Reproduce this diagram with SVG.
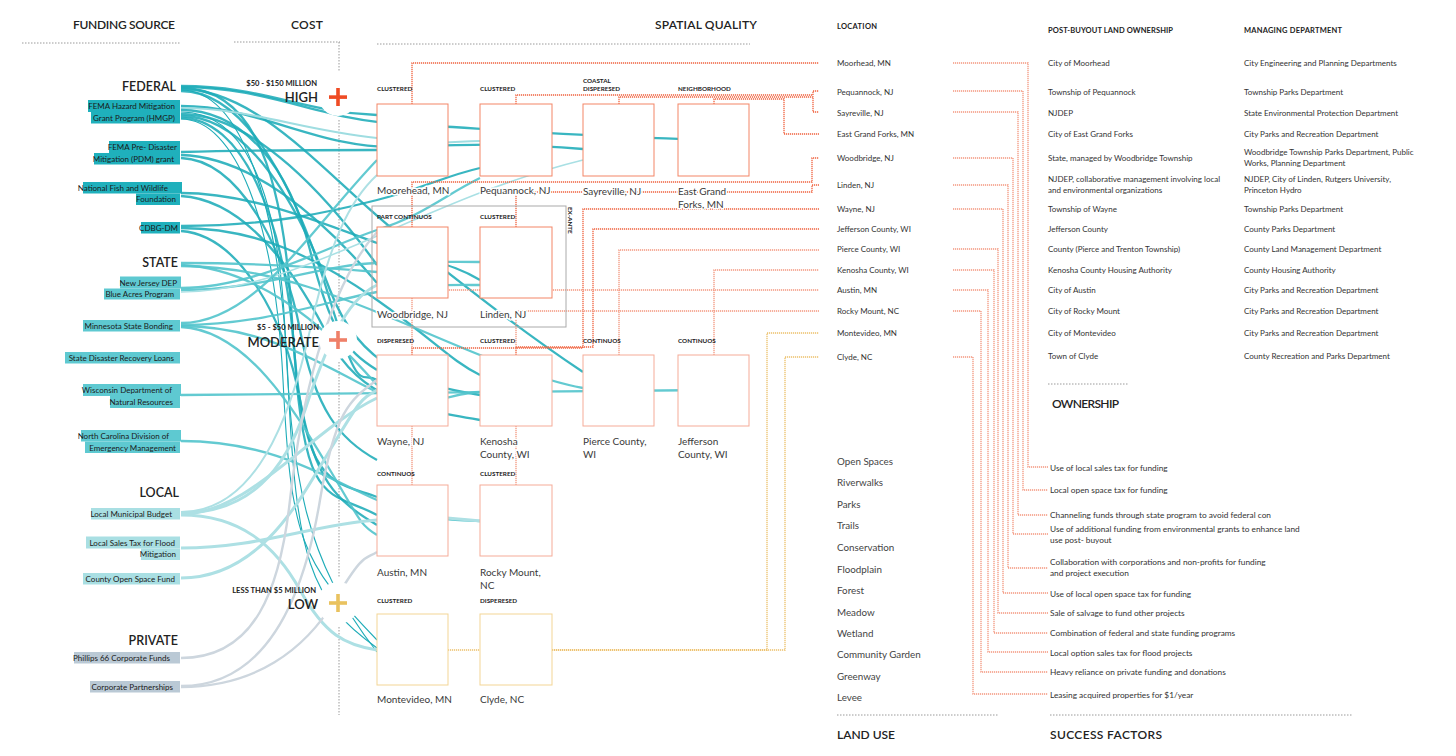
<svg xmlns="http://www.w3.org/2000/svg" width="1456" height="756" viewBox="0 0 1456 756">
<style>
text{font-family:Lato,'Liberation Sans','DejaVu Sans',sans-serif;fill:#222}
.hd{font-size:12px;font-weight:600}
.grp{font-size:12.5px;font-weight:600;text-anchor:end}
.src{font-size:8px;text-anchor:end;fill:#1a1a1a}
.cost{font-size:7.6px;font-weight:700;text-anchor:end}
.lvl{font-size:13px;font-weight:600;text-anchor:end}
.tag{font-size:6.3px;font-weight:700}
.nm{font-size:10px;fill:#3a3a3a;paint-order:stroke;stroke:#fff;stroke-width:3px;stroke-linejoin:round}
.col{font-size:7.5px;font-weight:700}
.tb{font-size:8px;fill:#333}
.lu{font-size:9.8px;fill:#444}
.sf{font-size:8.3px;fill:#333}
.dl{stroke:#9a9a9a;stroke-width:1;stroke-dasharray:1.5 1.5;fill:none}
.bf{fill:#1fb0bc}.bs{fill:#5ec9d1}.bl{fill:#a9dfe3}.bp{fill:#bac9d5}
.sq1{fill:#fff;stroke:#f38566;stroke-width:1}
.sq2{fill:#fff;stroke:#f5ab98;stroke-width:1}
.sq3{fill:#fff;stroke:#f3d595;stroke-width:1}
.fed{fill:none;stroke:#1eacb8;stroke-width:2.3;opacity:.88}
.fedt{fill:none;stroke:#1eacb8;stroke-width:1.1}
.fedl{fill:none;stroke:#9fdde1;stroke-width:2}
.sta{fill:none;stroke:#52c4cc;stroke-width:2.3;opacity:.9}
.stal{fill:none;stroke:#a9e0e4;stroke-width:1.5}
.loc{fill:none;stroke:#ade0e4;stroke-width:3}
.pri{fill:none;stroke:#cdd6de;stroke-width:2.4}
.o1{fill:none;stroke:#f0623e;stroke-width:1.3;stroke-dasharray:1.2 0.8}
.o2{fill:none;stroke:#f3977f;stroke-width:1.3;stroke-dasharray:1.2 0.8}
.g1{fill:none;stroke:#ecc06a;stroke-width:1.3;stroke-dasharray:1.2 0.8}
</style>

<g id="headers">
<text class="hd" x="73" y="29" textLength="102">FUNDING SOURCE</text>
<text class="hd" x="291" y="29" textLength="32">COST</text>
<text class="hd" x="655" y="29" textLength="102">SPATIAL QUALITY</text>
<text class="col" x="837" y="29" textLength="40">LOCATION</text>
<text class="col" x="1048" y="33" textLength="125">POST-BUYOUT LAND OWNERSHIP</text>
<text class="col" x="1244" y="33" textLength="98">MANAGING DEPARTMENT</text>
<line class="dl" x1="22" y1="43" x2="180" y2="43"/>
<line class="dl" x1="234" y1="42" x2="340" y2="42"/>
<line class="dl" x1="377" y1="44" x2="750" y2="44"/>
<line class="dl" x1="339" y1="42" x2="339" y2="72"/>
<line class="dl" x1="339" y1="120" x2="339" y2="317"/>
<line class="dl" x1="339" y1="362" x2="339" y2="577"/>
<line class="dl" x1="339" y1="627" x2="339" y2="715"/>
<line class="dl" x1="1048" y1="384" x2="1129" y2="384"/>
<text class="hd" x="1052" y="408" textLength="67">OWNERSHIP</text>
<line class="dl" x1="837" y1="715" x2="999" y2="715"/>
<text class="hd" x="837" y="739" textLength="58">LAND USE</text>
<line class="dl" x1="1050" y1="715" x2="1353" y2="715"/>
<text class="hd" x="1050" y="739" textLength="112">SUCCESS FACTORS</text>
</g>

<g id="connectors">
<g id="funding-links">
<path class="fed" d="M181,86 C265,86 300,112 377,115"/>
<path class="fed" d="M181,87 C270,87 320,120 400,124 S560,136 714,140"/>
<path class="fed" d="M181,88 C245,88 282,150 292,320 S330,480 377,497"/>
<path class="fed" d="M181,89 C260,89 330,180 400,235 S520,330 583,372"/>
<path class="fedt" d="M181,90 C240,90 280,200 288,380 S310,600 377,648"/>
<path class="fed" d="M181,91 C250,91 300,200 330,300 S360,370 377,380"/>
<path class="fed" d="M181,106 C260,106 320,150 400,147 S500,143 583,149"/>
<path class="fedl" d="M181,108 C250,108 300,130 377,138 S450,141 480,141"/>
<path class="fed" d="M181,110 C245,110 290,170 310,250 S345,350 377,370"/>
<path class="fedt" d="M181,112 C240,112 278,180 285,330 S305,560 377,652"/>
<path class="fed" d="M181,114 C255,114 330,200 377,265"/>
<path class="fed" d="M181,116 C250,116 300,210 330,290 S420,385 480,395"/>
<path class="fed" d="M181,118 C240,118 285,210 295,360 S330,490 377,515"/>
<path class="fedt" d="M181,119 C235,119 275,220 283,380 S300,560 377,640"/>
<path class="fed" d="M181,152 C260,150 320,150 377,150"/>
<path class="fed" d="M181,155 C250,157 320,215 377,283"/>
<path class="fed" d="M181,158 C240,160 285,250 300,330 S340,440 377,460"/>
<path class="fed" d="M181,193 C250,193 320,222 377,243 S450,262 480,280"/>
<path class="fed" d="M181,196 C250,200 300,280 330,340 S420,410 480,420"/>
<path class="fed" d="M181,226 C270,226 330,212 377,200 S445,176 480,168"/>
<path class="fed" d="M181,228 C260,228 320,260 377,300 S450,360 480,375"/>
<path class="fed" d="M181,231 C240,235 285,320 300,400 S335,500 377,525"/>
<path class="sta" d="M181,263 C265,263 330,268 377,272"/>
<path class="sta" d="M181,265 C255,268 320,320 377,385"/>
<path class="sta" d="M181,266 C270,266 350,300 420,330 S540,380 583,388"/>
<path class="sta" d="M181,290 C260,290 320,265 377,263 S450,262 480,262"/>
<path class="sta" d="M181,288 C255,288 330,245 377,230 S445,195 480,178"/>
<path class="stal" d="M181,292 C300,292 420,200 583,160"/>
<path class="sta" d="M181,323 C255,323 310,230 377,160"/>
<path class="sta" d="M181,325 C265,325 330,300 377,292 S450,285 480,285"/>
<path class="sta" d="M181,327 C250,330 300,420 330,470 S360,525 377,535"/>
<path class="sta" d="M181,326 C270,326 330,370 377,392 S450,392 480,392"/>
<path class="sta" d="M181,395 C300,395 450,391 714,390"/>
<path class="sta" d="M181,441 C275,441 330,480 377,500 S450,520 480,521"/>
<path class="loc" d="M181,513 C250,513 285,470 305,410 S345,300 377,285"/>
<path class="loc" style="stroke-width:2" d="M181,512 C255,512 290,420 310,330 S350,200 377,175"/>
<path class="loc" d="M181,515 C240,515 275,545 300,590 S345,645 377,650"/>
<path class="loc" d="M181,514 C250,514 310,430 377,398"/>
<path class="loc" d="M181,548 C260,548 310,525 377,520 S440,518 480,521"/>
<path class="loc" d="M181,578 C260,578 300,500 330,450 S360,400 377,390"/>
<path class="pri" d="M181,658 C255,658 280,590 290,500 S325,290 377,232"/>
<path class="pri" d="M181,687 C255,687 305,650 335,600 S365,560 377,552"/>
<path class="pri" d="M181,686 C270,686 305,590 320,500 S350,400 377,380"/>
</g>

<circle cx="338" cy="97" r="19" fill="#fff"/>
<circle cx="338" cy="340" r="19" fill="#fff"/>
<circle cx="338" cy="603" r="21" fill="#fff"/>

<g id="location-links">
<path class="o1" d="M412,104 V63 H819"/>
<path class="o1" d="M516,104 V95 H813 V91 H819"/>
<path class="o1" d="M619,104 V97 H813 V112 H819"/>
<path class="o1" d="M714,104 V99 H784 V134 H819"/>
<path class="o1" d="M412,227 V182 H812 V158 H819"/>
<path class="o1" d="M516,227 V192 H812 V185 H819"/>
<path class="o1" d="M412,355 V348 H583 V209 H819"/>
<path class="o1" d="M516,355 V347 H593 V229 H819"/>
<path class="o2" d="M619,355 V250 H819"/>
<path class="o2" d="M714,355 V270 H819"/>
<path class="o2" d="M412,485 V290 H819"/>
<path class="o2" d="M516,485 V311 H819"/>
<path class="g1" d="M412,650 H767 V333 H819"/>
<path class="g1" d="M516,650 H785 V357 H819"/>
</g>

<g id="factor-links">
<path class="o2" d="M953,63 H1028 V467 H1048"/>
<path class="o2" d="M953,91 H1023 V490 H1048"/>
<path class="o2" d="M953,112 H1018 V515 H1048"/>
<path class="o2" d="M953,158 H1013 V534 H1048"/>
<path class="o2" d="M953,185 H1008 V568 H1048"/>
<path class="o2" d="M953,209 H1003 V593 H1048"/>
<path class="o2" d="M953,249 H998 V613 H1048"/>
<path class="o2" d="M953,270 H994 V633 H1048"/>
<path class="o2" d="M953,290 H988 V652 H1048"/>
<path class="o2" d="M953,311 H981 V672 H1048"/>
<path class="o2" d="M953,357 H973 V694 H1048"/>
</g>
</g>

<g id="federal"><text class="grp" x="176" y="91">FEDERAL</text></g>
<g id="fema-hmgp"><rect class="bf" x="88" y="100" width="92" height="12"/><rect class="bf" x="91" y="112" width="89" height="11.5"/>
<text class="src" x="175" y="109">FEMA Hazard Mitigation</text><text class="src" x="175" y="120.5">Grant Program (HMGP)</text></g>
<g id="fema-pdm"><rect class="bf" x="109" y="141" width="71" height="12"/><rect class="bf" x="94" y="153" width="86" height="11.5"/>
<text class="src" x="177" y="150">FEMA Pre- Disaster</text><text class="src" x="174" y="161.5">Mitigation (PDM) grant</text></g>
<g id="nfwf"><rect class="bf" x="83" y="182" width="99" height="11.5"/><rect class="bf" x="136" y="193.5" width="44" height="11.5"/>
<text class="src" x="168" y="190.5">National Fish and Wildlife</text><text class="src" x="176" y="202">Foundation</text></g>
<g id="cdbg"><rect class="bf" x="141" y="222" width="39" height="11.5"/><text class="src" x="178" y="231">CDBG-DM</text></g>

<g id="state"><text class="grp" x="178" y="267">STATE</text></g>
<g id="nj-dep"><rect class="bs" x="120" y="276.5" width="61" height="12"/><rect class="bs" x="104" y="288.5" width="76" height="11"/>
<text class="src" x="177" y="285.5">New Jersey DEP</text><text class="src" x="174" y="297">Blue Acres Program</text></g>
<g id="mn-bonding"><rect class="bs" x="83" y="320" width="97" height="11.5"/><text class="src" x="173" y="328.5">Minnesota State Bonding</text></g>
<g id="state-loans"><rect class="bs" x="65" y="352" width="115" height="11.5"/><text class="src" x="174" y="360.5">State Disaster Recovery Loans</text></g>
<g id="wi-dnr"><rect class="bs" x="83" y="384" width="98" height="12"/><rect class="bs" x="110" y="396" width="70" height="12"/>
<text class="src" x="172" y="393">Wisconsin Department of</text><text class="src" x="173" y="405">Natural Resources</text></g>
<g id="nc-dem"><rect class="bs" x="81" y="430" width="100" height="11.5"/><rect class="bs" x="85" y="441.5" width="95" height="11.5"/>
<text class="src" x="169" y="439">North Carolina Division of</text><text class="src" x="176" y="450.5">Emergency Management</text></g>

<g id="local"><text class="grp" x="179" y="497">LOCAL</text></g>
<g id="municipal-budget"><rect class="bl" x="91" y="508" width="89" height="11.5"/><text class="src" x="172" y="516.5">Local Municipal Budget</text></g>
<g id="sales-tax"><rect class="bl" x="86" y="536.5" width="94" height="12"/><rect class="bl" x="141" y="548.5" width="39" height="11.5"/>
<text class="src" x="175" y="545.5">Local Sales Tax for Flood</text><text class="src" x="176" y="557">Mitigation</text></g>
<g id="open-space-fund"><rect class="bl" x="83" y="573" width="97" height="11.5"/><text class="src" x="175" y="581.5">County Open Space Fund</text></g>

<g id="private"><text class="grp" x="178" y="645">PRIVATE</text></g>
<g id="phillips"><rect class="bp" x="74" y="652" width="106" height="11.5"/><text class="src" x="170" y="661">Phillips 66 Corporate Funds</text></g>
<g id="corporate"><rect class="bp" x="90" y="681" width="90" height="11.5"/><text class="src" x="173" y="690">Corporate Partnerships</text></g>

<g id="cost-high"><text class="cost" x="317" y="86">$50 - $150 MILLION</text><text class="lvl" x="318" y="102">HIGH</text>
<rect x="329" y="95.3" width="18" height="3.6" fill="#ef4b24"/><rect x="336.2" y="88" width="3.6" height="18" fill="#ef4b24"/></g>
<g id="cost-moderate"><text class="cost" x="319" y="330">$5 - $50 MILLION</text><text class="lvl" x="319" y="347">MODERATE</text>
<rect x="329" y="338.2" width="18" height="3.6" fill="#ef8069"/><rect x="336.2" y="331" width="3.6" height="18" fill="#ef8069"/></g>
<g id="cost-low"><text class="cost" x="316" y="593">LESS THAN $5 MILLION</text><text class="lvl" x="318" y="609">LOW</text>
<rect x="329" y="601.2" width="18" height="3.6" fill="#e9c25f"/><rect x="336.2" y="594" width="3.6" height="18" fill="#e9c25f"/></g>

<g id="ex-ante">
<rect x="372" y="206" width="194" height="121" fill="none" stroke="#aaa" stroke-width="1"/>
<text class="tag" transform="translate(567.5,207) rotate(90)">EX-ANTE</text>
</g>

<g id="moorehead"><text class="tag" x="377" y="91">CLUSTERED</text><rect class="sq1" x="377" y="104" width="71" height="72"/><text class="nm" x="377" y="194">Moorehead, MN</text></g>
<g id="pequannock"><text class="tag" x="480" y="91">CLUSTERED</text><rect class="sq1" x="480" y="104" width="72" height="72"/><text class="nm" x="480" y="194">Pequannock, NJ</text></g>
<g id="sayreville"><text class="tag" x="583" y="83">COASTAL</text><text class="tag" x="583" y="91">DISPERESED</text><rect class="sq1" x="583" y="104" width="71" height="72"/><text class="nm" x="583" y="195">Sayreville, NJ</text></g>
<g id="east-grand-forks"><text class="tag" x="678" y="91">NEIGHBORHOOD</text><rect class="sq1" x="678" y="104" width="71" height="72"/><text class="nm" x="678" y="195">East Grand</text><text class="nm" x="678" y="208">Forks, MN</text></g>

<g id="woodbridge"><text class="tag" x="377" y="219">PART CONTINUOS</text><rect class="sq1" x="377" y="227" width="71" height="71"/><text class="nm" x="377" y="318">Woodbridge, NJ</text></g>
<g id="linden"><text class="tag" x="480" y="219">CLUSTERED</text><rect class="sq1" x="480" y="227" width="72" height="71"/><text class="nm" x="480" y="318">Linden, NJ</text></g>

<g id="wayne"><text class="tag" x="377" y="343">DISPERESED</text><rect class="sq2" x="377" y="355" width="71" height="71"/><text class="nm" x="377" y="445">Wayne, NJ</text></g>
<g id="kenosha"><text class="tag" x="480" y="343">CLUSTERED</text><rect class="sq2" x="480" y="355" width="72" height="71"/><text class="nm" x="480" y="445">Kenosha</text><text class="nm" x="480" y="458">County, WI</text></g>
<g id="pierce"><text class="tag" x="583" y="343">CONTINUOS</text><rect class="sq2" x="583" y="355" width="71" height="71"/><text class="nm" x="583" y="445">Pierce County,</text><text class="nm" x="583" y="458">WI</text></g>
<g id="jefferson"><text class="tag" x="678" y="343">CONTINUOS</text><rect class="sq2" x="678" y="355" width="71" height="71"/><text class="nm" x="678" y="445">Jefferson</text><text class="nm" x="678" y="458">County, WI</text></g>

<g id="austin"><text class="tag" x="377" y="476">CONTINUOS</text><rect class="sq2" x="377" y="485" width="71" height="71"/><text class="nm" x="377" y="576">Austin, MN</text></g>
<g id="rocky-mount"><text class="tag" x="480" y="476">CLUSTERED</text><rect class="sq2" x="480" y="485" width="72" height="71"/><text class="nm" x="480" y="576">Rocky Mount,</text><text class="nm" x="480" y="589">NC</text></g>

<g id="montevideo"><text class="tag" x="377" y="603">CLUSTERED</text><rect class="sq3" x="377" y="614" width="71" height="71"/><text class="nm" x="377" y="703">Montevideo, MN</text></g>
<g id="clyde"><text class="tag" x="480" y="603">DISPERESED</text><rect class="sq3" x="480" y="614" width="72" height="71"/><text class="nm" x="480" y="703">Clyde, NC</text></g>

<g id="location-list">
<text class="tb" x="837" y="66">Moorhead, MN</text>
<text class="tb" x="837" y="95">Pequannock, NJ</text>
<text class="tb" x="837" y="116">Sayreville, NJ</text>
<text class="tb" x="837" y="137">East Grand Forks, MN</text>
<text class="tb" x="837" y="161">Woodbridge, NJ</text>
<text class="tb" x="837" y="188">Linden, NJ</text>
<text class="tb" x="837" y="212">Wayne, NJ</text>
<text class="tb" x="837" y="232">Jefferson County, WI</text>
<text class="tb" x="837" y="252">Pierce County, WI</text>
<text class="tb" x="837" y="273">Kenosha County, WI</text>
<text class="tb" x="837" y="293">Austin, MN</text>
<text class="tb" x="837" y="314">Rocky Mount, NC</text>
<text class="tb" x="837" y="336">Montevideo, MN</text>
<text class="tb" x="837" y="360">Clyde, NC</text>
</g>
<g id="ownership-list">
<text class="tb" x="1048" y="66">City of Moorhead</text>
<text class="tb" x="1048" y="95">Township of Pequannock</text>
<text class="tb" x="1048" y="116">NJDEP</text>
<text class="tb" x="1048" y="137">City of East Grand Forks</text>
<text class="tb" x="1048" y="161">State, managed by Woodbridge Township</text>
<text class="tb" x="1048" y="182">NJDEP, collaborative management involving local</text>
<text class="tb" x="1048" y="193">and environmental organizations</text>
<text class="tb" x="1048" y="212">Township of Wayne</text>
<text class="tb" x="1048" y="232">Jefferson County</text>
<text class="tb" x="1048" y="252">County (Pierce and Trenton Township)</text>
<text class="tb" x="1048" y="273">Kenosha County Housing Authority</text>
<text class="tb" x="1048" y="293">City of Austin</text>
<text class="tb" x="1048" y="314">City of Rocky Mount</text>
<text class="tb" x="1048" y="336">City of Montevideo</text>
<text class="tb" x="1048" y="359">Town of Clyde</text>
</g>
<g id="department-list">
<text class="tb" x="1244" y="66">City Engineering and Planning Departments</text>
<text class="tb" x="1244" y="95">Township Parks Department</text>
<text class="tb" x="1244" y="116">State Environmental Protection Department</text>
<text class="tb" x="1244" y="137">City Parks and Recreation Department</text>
<text class="tb" x="1244" y="155">Woodbridge Township Parks Department, Public</text>
<text class="tb" x="1244" y="166">Works, Planning Department</text>
<text class="tb" x="1244" y="182">NJDEP, City of Linden, Rutgers University,</text>
<text class="tb" x="1244" y="193">Princeton Hydro</text>
<text class="tb" x="1244" y="212">Township Parks Department</text>
<text class="tb" x="1244" y="232">County Parks Department</text>
<text class="tb" x="1244" y="252">County Land Management Department</text>
<text class="tb" x="1244" y="273">County Housing Authority</text>
<text class="tb" x="1244" y="293">City Parks and Recreation Department</text>
<text class="tb" x="1244" y="314">City Parks and Recreation Department</text>
<text class="tb" x="1244" y="336">City Parks and Recreation Department</text>
<text class="tb" x="1244" y="359">County Recreation and Parks Department</text>
</g>

<g id="land-use">
<text class="lu" x="837" y="464.5">Open Spaces</text>
<text class="lu" x="837" y="486">Riverwalks</text>
<text class="lu" x="837" y="507.5">Parks</text>
<text class="lu" x="837" y="529">Trails</text>
<text class="lu" x="837" y="550.5">Conservation</text>
<text class="lu" x="837" y="572.5">Floodplain</text>
<text class="lu" x="837" y="594">Forest</text>
<text class="lu" x="837" y="615.5">Meadow</text>
<text class="lu" x="837" y="636.5">Wetland</text>
<text class="lu" x="837" y="658">Community Garden</text>
<text class="lu" x="837" y="679.5">Greenway</text>
<text class="lu" x="837" y="701">Levee</text>
</g>

<g id="success-factors">
<text class="sf" x="1050" y="470.5">Use of local sales tax for funding</text>
<text class="sf" x="1050" y="493">Local open space tax for funding</text>
<text class="sf" x="1050" y="518">Channeling funds through state program to avoid federal con</text>
<text class="sf" x="1050" y="531.5">Use of additional funding from environmental grants to enhance land</text>
<text class="sf" x="1050" y="543">use post- buyout</text>
<text class="sf" x="1050" y="565">Collaboration with corporations and non-profits for funding</text>
<text class="sf" x="1050" y="575.5"> and project execution</text>
<text class="sf" x="1050" y="596.5">Use of local open space tax for funding</text>
<text class="sf" x="1050" y="616">Sale of salvage to fund other projects</text>
<text class="sf" x="1050" y="636">Combination of federal and state funding programs</text>
<text class="sf" x="1050" y="655.5">Local option sales tax for flood projects</text>
<text class="sf" x="1050" y="675">Heavy reliance on private funding and donations</text>
<text class="sf" x="1050" y="697.5">Leasing acquired properties for $1/year</text>
</g>
</svg>
